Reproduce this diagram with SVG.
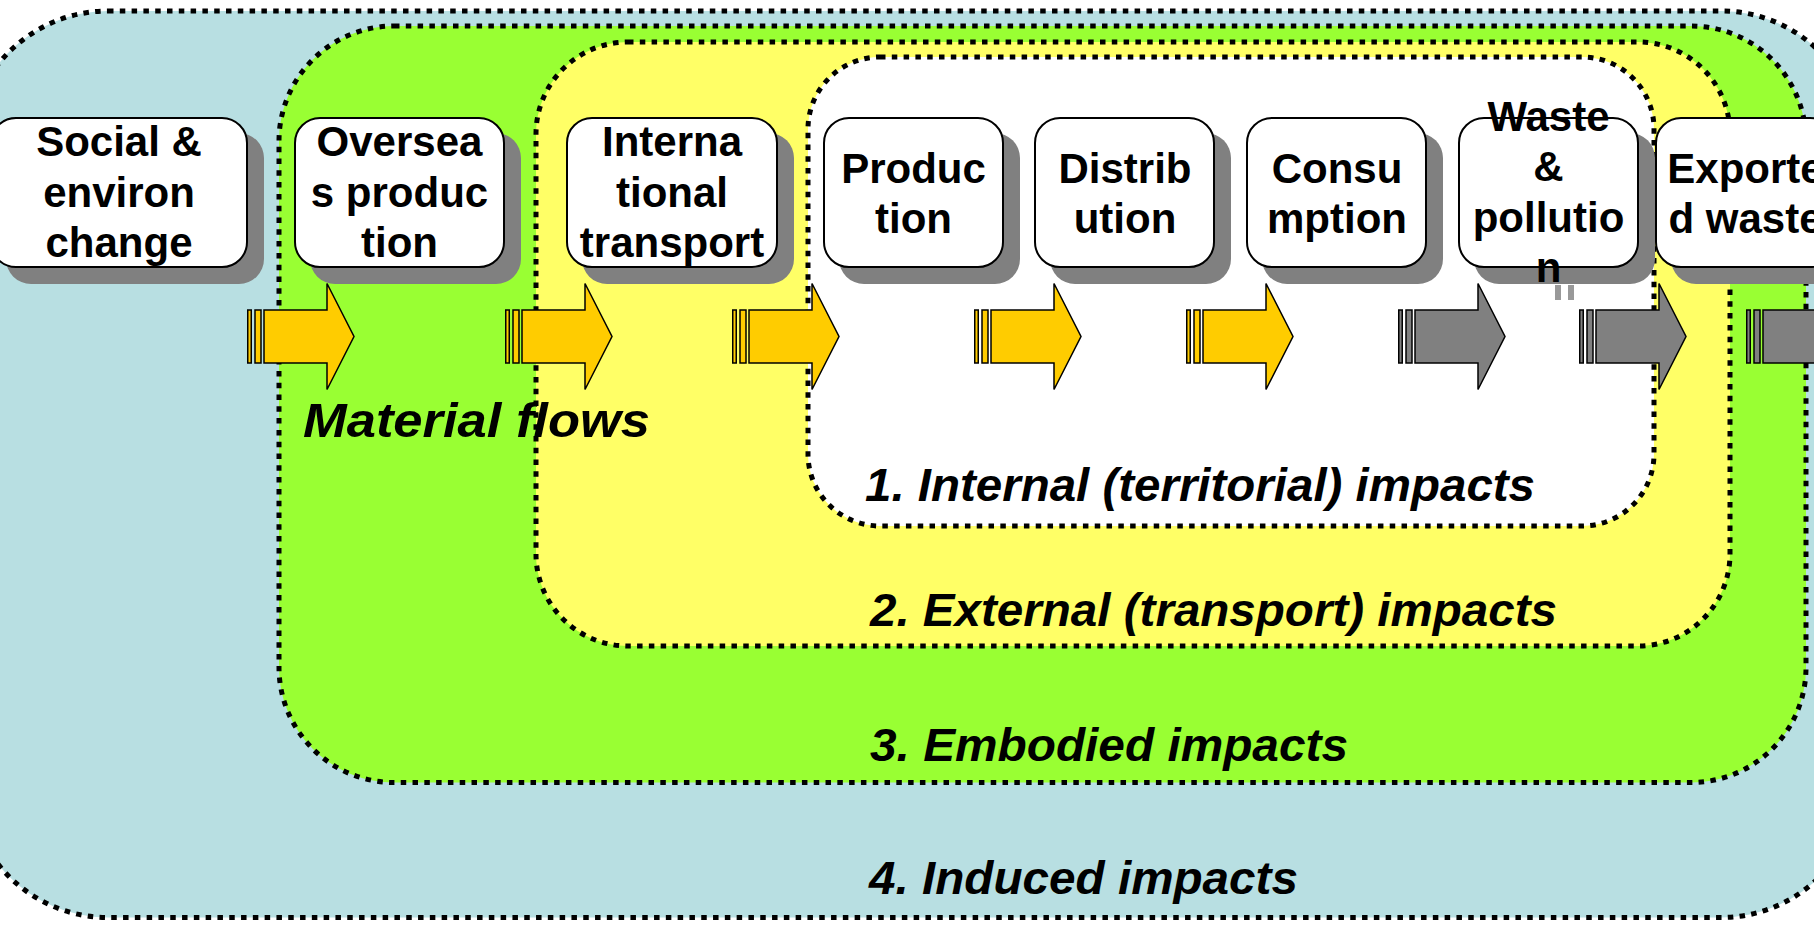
<svg xmlns="http://www.w3.org/2000/svg" width="1814" height="927" viewBox="0 0 1814 927">
<style>
.zone{stroke:#000;stroke-width:5;stroke-dasharray:5.5 6.3}
.shadow{fill:#808080}
.box{fill:#fff;stroke:#000;stroke-width:2}
.nt{font-family:"Liberation Sans",Arial,sans-serif;font-weight:bold;font-size:42px;text-anchor:middle;fill:#000}
.lab{font-family:"Liberation Sans",Arial,sans-serif;font-weight:bold;font-style:italic;fill:#000}
.stripe{stroke:#000;stroke-width:1.5}
.arr{stroke:#000;stroke-width:1.5;stroke-linejoin:miter}
.or{fill:#FFCC00}
.gr{fill:#808080}
</style>
<defs>
<g id="arrowShape">
<rect class="stripe" x="0.75" y="310" width="3.5" height="53"/>
<rect class="stripe" x="8" y="310" width="6" height="53"/>
<polygon class="arr" points="17,310 80,310 80,283.5 107,336.5 80,389.5 80,363 17,363"/>
</g>
</defs>
<rect width="1814" height="927" fill="#fff"/>
<g id="regions">
<rect id="zone-induced" class="zone" x="-32" y="11" width="1893" height="906.5" rx="140" fill="#B8DFE2"/>
<rect id="zone-embodied" class="zone" x="279" y="26" width="1527" height="756.5" rx="115" fill="#99FF33"/>
<rect id="zone-external" class="zone" x="536" y="42" width="1194" height="604" rx="92" fill="#FFFF66"/>
<rect id="zone-internal" class="zone" x="808" y="57" width="846" height="469" rx="72" fill="#FFFFFF"/>
</g>
<g id="connectors">
<use href="#arrowShape" x="247" class="or"/>
<use href="#arrowShape" x="505" class="or"/>
<use href="#arrowShape" x="732" class="or"/>
<use href="#arrowShape" x="974" class="or"/>
<use href="#arrowShape" x="1186" class="or"/>
<use href="#arrowShape" x="1398" class="gr"/>
<use href="#arrowShape" x="1579" class="gr"/>
<use href="#arrowShape" x="1746" class="gr"/>
</g>
<g id="node-social">
<rect class="shadow" x="6" y="133" width="258" height="151" rx="25"/>
<rect class="box" x="-9" y="118" width="256" height="149" rx="25"/>
<text class="nt" x="119" y="156">Social &amp;</text>
<text class="nt" x="119" y="206.5">environ</text>
<text class="nt" x="119" y="257">change</text>
</g>
<g id="node-overseas">
<rect class="shadow" x="310" y="133" width="211" height="151" rx="25"/>
<rect class="box" x="295" y="118" width="209" height="149" rx="25"/>
<text class="nt" x="399.5" y="156">Oversea</text>
<text class="nt" x="399.5" y="206.5">s produc</text>
<text class="nt" x="399.5" y="257">tion</text>
</g>
<g id="node-international">
<rect class="shadow" x="582" y="133" width="212" height="151" rx="25"/>
<rect class="box" x="567" y="118" width="210" height="149" rx="25"/>
<text class="nt" x="672" y="156">Interna</text>
<text class="nt" x="672" y="206.5">tional</text>
<text class="nt" x="672" y="257">transport</text>
</g>
<g id="node-production">
<rect class="shadow" x="839" y="133" width="181" height="151" rx="25"/>
<rect class="box" x="824" y="118" width="179" height="149" rx="25"/>
<text class="nt" x="913.5" y="182.5">Produc</text>
<text class="nt" x="913.5" y="233">tion</text>
</g>
<g id="node-distribution">
<rect class="shadow" x="1050" y="133" width="181" height="151" rx="25"/>
<rect class="box" x="1035" y="118" width="179" height="149" rx="25"/>
<text class="nt" x="1125" y="182.5">Distrib</text>
<text class="nt" x="1125" y="233">ution</text>
</g>
<g id="node-consumption">
<rect class="shadow" x="1262" y="133" width="181" height="151" rx="25"/>
<rect class="box" x="1247" y="118" width="179" height="149" rx="25"/>
<text class="nt" x="1337" y="182.5">Consu</text>
<text class="nt" x="1337" y="233">mption</text>
</g>
<g id="node-waste">
<rect class="shadow" x="1474" y="133" width="181" height="151" rx="25"/>
<rect class="box" x="1459" y="118" width="179" height="149" rx="25"/>
<text class="nt" x="1548.5" y="130.5">Waste</text>
<text class="nt" x="1548.5" y="181">&amp;</text>
<text class="nt" x="1548.5" y="231.5">pollutio</text>
<text class="nt" x="1548.5" y="282">n</text>
<rect x="1555" y="285" width="6" height="15" fill="#999"/>
<rect x="1568" y="285" width="6" height="15" fill="#999"/>
</g>
<g id="node-exported">
<rect class="shadow" x="1671" y="133" width="181" height="151" rx="25"/>
<rect class="box" x="1656" y="118" width="179" height="149" rx="25"/>
<text class="nt" x="1745.5" y="182.5">Exporte</text>
<text class="nt" x="1745.5" y="233">d waste</text>
</g>
<g id="labels">
<text class="lab" x="303" y="437" font-size="49" textLength="347" lengthAdjust="spacingAndGlyphs">Material flows</text>
<text class="lab" x="865" y="500.5" font-size="47" textLength="670" lengthAdjust="spacingAndGlyphs">1. Internal (territorial) impacts</text>
<text class="lab" x="870" y="626" font-size="47" textLength="687" lengthAdjust="spacingAndGlyphs">2. External (transport) impacts</text>
<text class="lab" x="870" y="761" font-size="47" textLength="478" lengthAdjust="spacingAndGlyphs">3. Embodied impacts</text>
<text class="lab" x="869" y="894" font-size="47" textLength="429" lengthAdjust="spacingAndGlyphs">4. Induced impacts</text>
</g>
</svg>
